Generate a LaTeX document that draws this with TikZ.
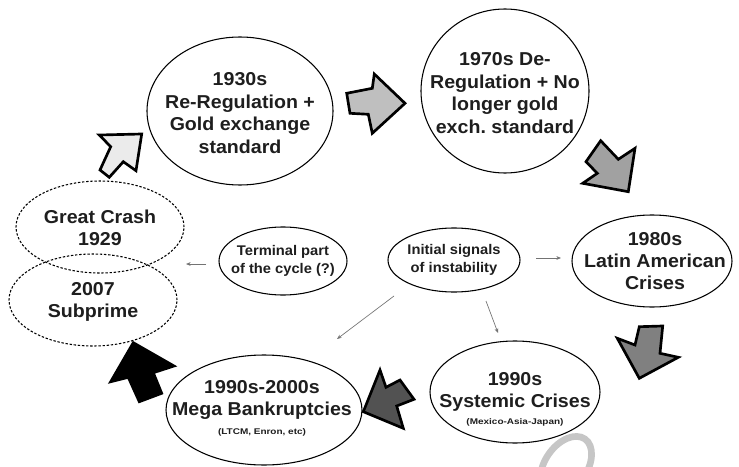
\documentclass[tikz,border=0pt]{standalone}
\usepackage{fontspec}
\setmainfont{Liberation Sans}[FakeStretch=1.05]
\usetikzlibrary{shapes.geometric,arrows.meta}
\definecolor{txt}{HTML}{1E1E1E}
\tikzset{
  ell/.style={draw=black, line width=0.8pt, ellipse, inner sep=0pt, fill=white},
  dell/.style={draw=black, line width=0.8pt, ellipse, inner sep=0pt, dash pattern=on 1.8pt off 1.3pt},
  big/.style={align=center, text=txt, font=\fontsize{14}{16.8}\selectfont\bfseries},
  small/.style={align=center, text=txt, font=\fontsize{10.5}{13}\selectfont\bfseries},
  tiny/.style={text=txt, font=\fontsize{6.2}{7}\selectfont\bfseries},
  blk/.style={draw=black, line width=2pt, line join=miter},
  thin/.style={draw=gray!90!black, line width=0.5pt, -{Stealth[length=3.5pt,width=2.8pt]}}
}
\begin{document}
\begin{tikzpicture}[x=0.75pt,y=-0.75pt]
\useasboundingbox (0,0) rectangle (739,467);
\fill[white] (0,0) rectangle (739,467);

% ellipses
\node[ell, minimum width=139.5pt, minimum height=111pt] (r30) at (240,111) {};
\node[ell, minimum width=126pt, minimum height=123pt] (r70) at (505,91) {};
\node[ell, minimum width=120pt, minimum height=69pt] (r80) at (652,261) {};
\node[ell, minimum width=127.5pt, minimum height=76.5pt] (r90) at (515,392) {};
\node[ell, minimum width=147pt, minimum height=82.5pt] (r00) at (264,410) {};
\node[dell, minimum width=126pt, minimum height=69pt] (gc) at (100,227) {};
\node[dell, minimum width=126pt, minimum height=69pt] (sp) at (93,300) {};
\node[ell, minimum width=96pt, minimum height=51pt] (term) at (283,261) {};
\node[ell, minimum width=99pt, minimum height=48pt] (init) at (454,260) {};

% texts
\node[big] (t30) at (240,113) {1930s\\Re-Regulation +\\Gold exchange\\standard};
\node[big] (t70) at (505,93) {1970s De-\\Regulation + No\\longer gold\\exch.\ standard};
\node[big] (t80) at (655,261) {1980s\\Latin American\\Crises};
\node[big] (t90) at (515,392) {1990s\\Systemic Crises};
\node[tiny] (t90b) at (515,422) {\scalebox{1.15}[1]{(Mexico-Asia-Japan)}};
\node[big] (t00) at (262,400) {1990s-2000s\\Mega Bankruptcies};
\node[tiny] (t00b) at (262,432) {\scalebox{1.15}[1]{(LTCM, Enron, etc)}};
\node[big] (tgc) at (100,228) {Great Crash\\1929};
\node[big] (tsp) at (93,302) {2007\\Subprime};
\node[small] (tterm) at (283,261) {Terminal part\\of the cycle (?)};
\node[small] (tinit) at (454,260) {Initial signals\\of instability};

% thin connectors
\coordinate (a1) at (536,258); \coordinate (a2) at (561,258);
\coordinate (b1) at (206,264); \coordinate (b2) at (186,264);
\coordinate (c1) at (486,301); \coordinate (c2) at (498,333);
\coordinate (d1) at (394,296); \coordinate (d2) at (337,339);
\draw[thin] (a1) -- (a2);
\draw[thin] (b1) -- (b2);
\draw[thin] (c1) -- (c2);
\draw[thin] (d1) -- (d2);

% block arrows
\filldraw[blk, fill=black!8] (141.7,134) -- (99.3,135) -- (110.7,146.7) -- (100,170) -- (109.3,177.3) -- (123.3,161.7) -- (136,170.7) -- cycle;
\filldraw[blk, fill=black!25] (405,103.3) -- (374.3,74) -- (372.3,88.3) -- (346.7,93.3) -- (350,113.3) -- (368.3,114.3) -- (372.3,133.3) -- cycle;
\filldraw[blk, fill=black!37] (628.3,191.7) -- (582.7,183.3) -- (597.3,173.3) -- (586,161.7) -- (600.7,140.7) -- (618.3,159.3) -- (635,148.3) -- cycle;
\filldraw[blk, fill=black!50] (639.3,378.3) -- (617.3,338.3) -- (635,345) -- (639.3,326.7) -- (662.7,326) -- (660,353.3) -- (678.3,357.3) -- cycle;
\filldraw[blk, fill=black!68] (363.3,411.7) -- (380,370) -- (386,387.3) -- (400,380) -- (414,399.3) -- (396.7,406) -- (403.3,428.3) -- cycle;
\filldraw[blk, fill=black] (133.3,342.7) -- (110.7,381.7) -- (128.3,377.3) -- (139.3,401.7) -- (161.7,393.3) -- (153.3,372.7) -- (174,366) -- cycle;

% faint watermark ring
\begin{scope}
\clip (0,0) rectangle (739,467);
\draw[gray!45, line width=5pt] (566,466) ellipse [x radius=21, y radius=33, rotate=-35];
\end{scope}
\end{tikzpicture}
\end{document}
